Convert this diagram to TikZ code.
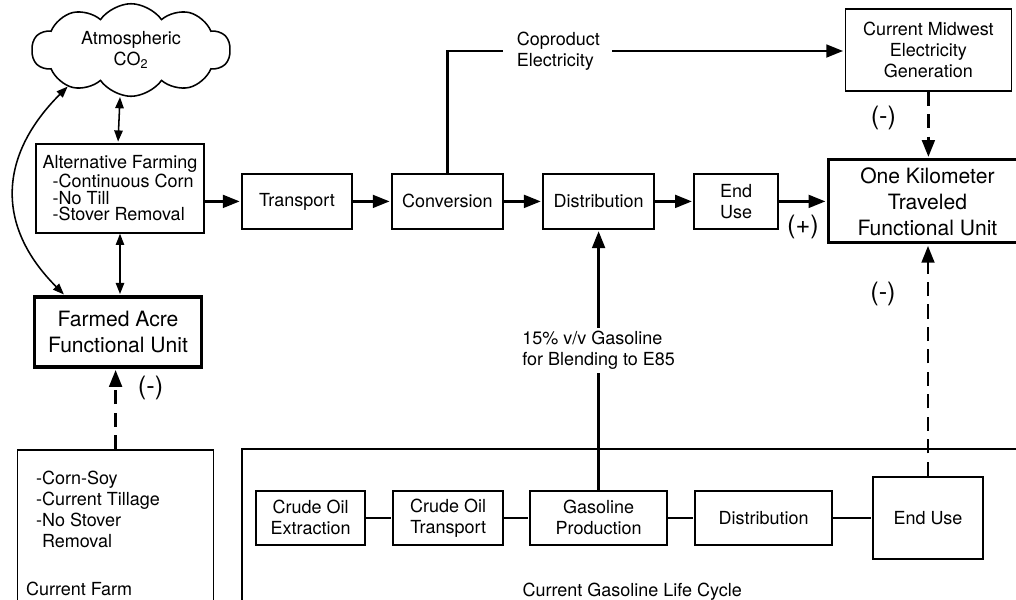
\documentclass[tikz,border=0pt]{standalone}
\usepackage{fontspec}
\setmainfont{TeX Gyre Heros}
\usepackage{tikz}
\usetikzlibrary{positioning}
\usetikzlibrary{shapes.symbols}
\usetikzlibrary{arrows.meta}

\begin{document}
\begin{tikzpicture}[shorten >=1pt,node distance=1cm,on grid,auto,
      >={Triangle[length=12pt,width=9pt]},
      every node/.style={font=\fontsize{12.8}{14.9}\selectfont},
      blk/.style={draw, line width=1.2pt, inner sep=2pt, align=center},
      unit/.style={draw, line width=2.2pt, inner sep=2pt, align=center, font=\fontsize{15}{18.5}\selectfont},
      frame/.style={draw, line width=1.2pt},
      flow/.style={line width=2pt},
      dashflow/.style={line width=2pt, dash pattern=on 10pt off 6pt},
      link/.style={line width=1.2pt},
      twoway/.style={<->, line width=1.1pt, >={Triangle[length=8pt,width=6pt]}},
      sign/.style={anchor=center, font=\fontsize{18}{20}\selectfont},
      glabel/.style={anchor=center, fill=white, align=left, inner sep=2pt, font=\fontsize{12.8}{15}\selectfont}]

      \useasboundingbox (-2.75,1.25) rectangle (22.65,-13.725);

      % farming side
      \node[cloud, draw, line width=1.1pt, cloud puffs=10, cloud puff arc=110, cloud ignores aspect,
            inner xsep=0.5cm, inner ysep=0.1cm, align=center] (atmos) at (0.525,0) {Atmospheric\\CO\textsubscript{2}};
      \node[blk, align=left, minimum width=4.2cm, minimum height=2.225cm, font=\fontsize{12.8}{11.8}\selectfont] (altfarm)
            [below=of atmos, xshift=-0.275cm, yshift=-2.46cm]
            {Alternative Farming\\\hspace*{0.25cm}-Continuous Corn\\\hspace*{0.25cm}-No Till\\\hspace*{0.25cm}-Stover Removal};
      \node[unit, minimum width=4.175cm, minimum height=1.75cm] (acre) [below=of altfarm, xshift=-0.05cm, yshift=-2.59cm] {Farmed Acre\\Functional Unit};

      \node[frame, minimum width=4.9cm, minimum height=5cm] (farmbox) [below=of acre, xshift=-0.06cm, yshift=-4.45cm] {};
      \node[anchor=north west, inner sep=0pt, align=left] (farmlist) at ([xshift=0.475cm, yshift=-0.55cm]farmbox.north west)
            {-Corn-Soy\\-Current Tillage\\-No Stover\\\hphantom{-}Removal};
      \node[anchor=west, inner sep=0pt] (farmlbl) at ([xshift=0.225cm, yshift=-3.5cm]farmbox.north west) {Current Farm};

      % ethanol chain
      \node[blk, minimum width=2.75cm, minimum height=1.375cm] (transport) [right=of altfarm, xshift=3.425cm, yshift=-0.325cm] {Transport};
      \node[blk, minimum width=2.775cm, minimum height=1.375cm] (conv) [right=of transport, xshift=2.76cm] {Conversion};
      \node[blk, minimum width=2.775cm, minimum height=1.375cm] (distr) [right=of conv, xshift=2.78cm] {Distribution};
      \node[blk, minimum width=2.1cm, minimum height=1.375cm] (enduse) [right=of distr, xshift=2.44cm] {End\\Use};
      \node[unit, minimum width=4.95cm, minimum height=2.075cm] (onekm) [right=of enduse, xshift=3.78cm] {One Kilometer\\Traveled\\Functional Unit};
      \node[blk, minimum width=4.15cm, minimum height=2.05cm] (midwest) [above=of onekm, xshift=0.025cm, yshift=2.79cm] {Current Midwest\\Electricity\\Generation};
      \node[align=left, inner xsep=0.3cm, inner ysep=0pt] (copro) [above=of conv, xshift=2.775cm, yshift=2.76cm] {Coproduct\\Electricity};

      % gasoline life cycle
      \node[blk, minimum width=3.425cm, minimum height=1.35cm] (gasprod) [below=of distr, yshift=-6.91cm] {Gasoline\\Production};
      \node[blk, minimum width=2.75cm, minimum height=1.35cm] (crtrans) [left=of gasprod, xshift=-2.76cm] {Crude Oil\\Transport};
      \node[blk, minimum width=2.725cm, minimum height=1.35cm] (extract) [left=of crtrans, xshift=-2.44cm] {Crude Oil\\Extraction};
      \node[blk, minimum width=3.425cm, minimum height=1.35cm] (gdistr) [right=of gasprod, xshift=3.125cm] {Distribution};
      \node[blk, minimum width=2.75cm, minimum height=2.05cm] (gend) [right=of gdistr, xshift=3.11cm] {End Use};

      \node[frame, minimum width=20cm, minimum height=5cm] (lcframe) [below=of gasprod, xshift=1.09cm, yshift=0.225cm] {};
      \node[] (lclabel) [below=of gasprod, xshift=0.84cm, yshift=-0.85cm] {Current Gasoline Life Cycle};


      \path[->]
        (altfarm.east |- transport.west) edge [flow] node[] {} (transport)
        (transport) edge [flow] node[] {} (conv)
        (conv) edge [flow] node[] {} (distr)
        (distr) edge [flow] node[] {} (enduse)
        (enduse) edge [flow] node[sign, yshift=-0.64cm] {(+)} (onekm)

        (midwest.south) edge [dashflow] node[sign, pos=0.39, xshift=-1.125cm] {(-)} (midwest.south |- onekm.north)
        (gend.north) edge [dashflow] node[sign, pos=0.786, xshift=-1.125cm] {(-)} (gend.north |- onekm.south)
        (farmbox.north) edge [dashflow] node[sign, pos=0.76, xshift=0.875cm] {(-)} (farmbox.north |- acre.south)

        (gasprod) edge [flow] node[glabel, pos=0.536] {15\% v/v Gasoline\\for Blending to E85} (distr)

        (altfarm.north |- atmos.south) edge [twoway] node[] {} ([xshift=-0.05cm]altfarm.north)
        (altfarm.south) edge [twoway] node[] {} (altfarm.south |- acre.north)
        (atmos.210) edge [twoway, out=225, in=135, looseness=1.2] node[] {} ([xshift=0.8cm]acre.north west)
        ;

      \draw[flow] (conv.north) |- (copro.west);
      \draw[flow, ->] (copro.east) -- (copro.east -| midwest.west);

      \path[link]
        (extract) edge [] node[] {} (crtrans)
        (crtrans) edge [] node[] {} (gasprod)
        (gasprod) edge [] node[] {} (gdistr)
        (gdistr) edge [] node[] {} (gend)
        ;

    \end{tikzpicture}
\end{document}
